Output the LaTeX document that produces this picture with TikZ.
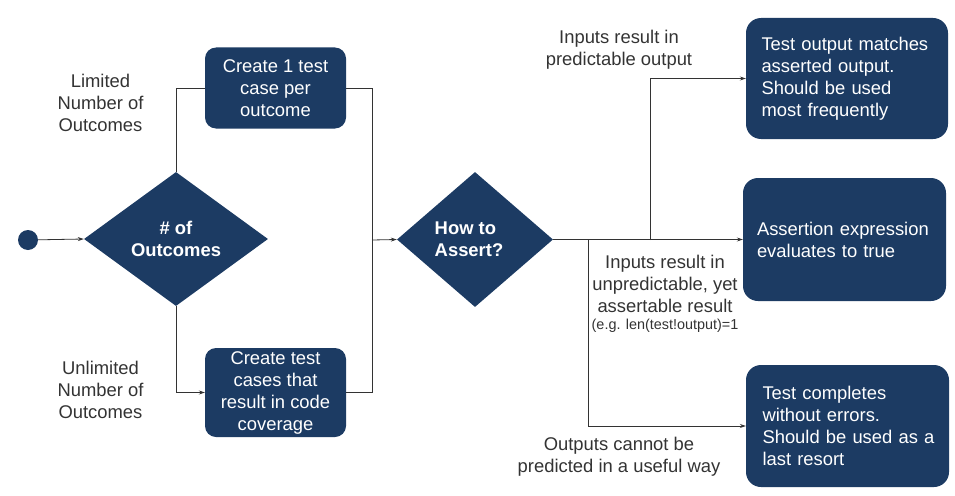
\documentclass[tikz,border=0pt]{standalone}
\usepackage{fontspec}
\setmainfont{Liberation Sans}
\usetikzlibrary{shapes.geometric,arrows.meta,calc}
\definecolor{navy}{HTML}{1C3B63}
\definecolor{ink}{HTML}{333333}
\tikzset{
  box/.style={draw=none,fill=navy,rounded corners=11pt,text=white,font=\fontsize{18.4}{22}\selectfont,inner sep=0pt},
  rbox/.style={box,rounded corners=15pt,align=left},
  dia/.style={diamond,fill=navy,inner sep=0pt,aspect=1.3},
  dtext/.style={text=white,font=\bfseries\fontsize{18.4}{22}\selectfont,inner sep=0pt},
  lbl/.style={text=ink,font=\fontsize{18.4}{22}\selectfont,align=center,inner sep=0pt},
  conn/.style={draw=ink,line width=0.8pt},
  arr/.style={conn,-{Stealth[length=6pt,width=4pt]}}
}
\begin{document}
\begin{tikzpicture}[x=1pt,y=-1pt]
\useasboundingbox (0,0) rectangle (955,495);
% start
\node[circle,fill=navy,minimum size=20pt,inner sep=0pt] (start) at (28,240) {};
% diamonds
\node[dia,minimum width=184pt,minimum height=134pt,
  label={[dtext,align=center]center:{\# of\\Outcomes}}] (d1) at (176,239) {};
\node[dia,minimum width=156pt,minimum height=135pt,
  label={[dtext,align=left,xshift=-6pt]center:{How to\\Assert?}}] (d2) at (475,239.5) {};
% left boxes
\node[box,minimum width=141pt,minimum height=81pt,align=center] (b1) at (275.5,88) {Create 1 test\\case per\\outcome};
\node[box,minimum width=141pt,minimum height=89pt,align=center] (b2) at (275.5,392.5) {Create test\\cases that\\result in code\\coverage};
% right boxes
\node[rbox,minimum width=202pt,minimum height=121pt,text width=171pt] (bA) at (847,78.5) {\mbox{Test output matches}\\asserted output.\\Should be used\\most frequently};
\node[rbox,minimum width=203pt,minimum height=123pt,text width=175pt] (bB) at (844.5,239.5) {\mbox{Assertion expression}\\evaluates to true};
\node[rbox,minimum width=203pt,minimum height=122pt,text width=170pt] (bC) at (847.5,426) {Test completes\\without errors.\\\mbox{Should be used as a}\\last resort};
% labels
\node[lbl] (l1) at (100.5,103) {Limited\\Number of\\Outcomes};
\node[lbl] (l2) at (100.5,390) {Unlimited\\Number of\\Outcomes};
\node[lbl] (l3) at (619,50) {Inputs result in\\predictable output};
\node[lbl,anchor=north] (l4) at (665,254.5) {Inputs result in\\unpredictable, yet\\assertable result\\[-5pt]{\fontsize{14.4}{16}\selectfont(e.g. len(test!output)=1}};
\node[lbl] (l5) at (619,457) {Outputs cannot be\\predicted in a useful way};
% coordinates
\coordinate (m) at (372,240);
\coordinate (jA) at (650,240);
\coordinate (jC) at (588,240);
% connectors
\draw[arr] (start) -- (d1.west);
\draw[conn] (d1.north) |- (b1.west);
\draw[arr] (d1.south) |- (b2.west);
\draw[conn] (b1.east) -| (m);
\draw[conn] (b2.east) -| (m);
\draw[arr] (m) -- (d2.west);
\draw[arr] (d2.east) -- (bB.west);
\draw[arr] (jA) |- (bA.west);
\draw[arr] (jC) |- (bC.west);
\end{tikzpicture}
\end{document}
